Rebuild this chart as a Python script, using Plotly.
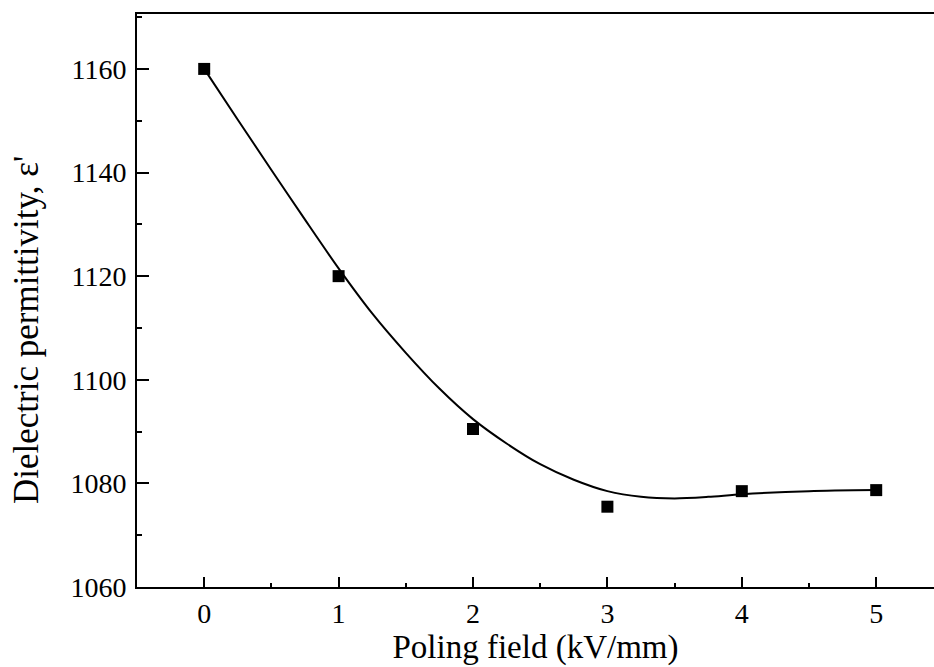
import plotly.graph_objects as go

# Measured data points
field_kv_mm = [0, 1, 2, 3, 4, 5]
permittivity = [1160, 1120, 1090.5, 1075.5, 1078.5, 1078.7]

# Fitted curve
curve_x = [0, 0.25, 0.5, 0.75, 1.0, 1.25, 1.5, 1.75, 2.0, 2.25, 2.5, 2.75,
           3.0, 3.25, 3.5, 3.75, 4.0, 4.5, 5.0]
curve_y = [1160, 1150.2, 1140.5, 1130.9, 1121.5, 1112.8, 1105.2, 1098.3, 1092.4,
           1087.7, 1083.7, 1080.7, 1078.5, 1077.4, 1077.1, 1077.4, 1077.9, 1078.5, 1078.7]

x_ticks = [0, 1, 2, 3, 4, 5]
y_ticks = [1060, 1080, 1100, 1120, 1140, 1160]

font_family = "Liberation Serif, Times New Roman, serif"

fig = go.Figure()
fig.add_trace(go.Scatter(
    x=curve_x, y=curve_y, mode="lines",
    line=dict(color="black", width=2, shape="spline", smoothing=0.8),
    showlegend=False, hoverinfo="skip"))
fig.add_trace(go.Scatter(
    x=field_kv_mm, y=permittivity, mode="markers",
    marker=dict(symbol="square", size=12, color="black"),
    showlegend=False))

fig.update_layout(
    width=934, height=667,
    margin=dict(l=137, r=0, t=14, b=80),
    paper_bgcolor="white", plot_bgcolor="white",
    font=dict(family=font_family, size=28, color="black"),
    xaxis=dict(
        range=[-0.5, 5.43], tickvals=x_ticks, ticks="inside", ticklen=10,
        tickwidth=1.5, tickcolor="black",
        minor=dict(dtick=0.5, ticks="inside", ticklen=4, tickwidth=1.5, tickcolor="black"),
        showline=True, linecolor="black", linewidth=2, mirror=True,
        showgrid=False, zeroline=False, ticklabelstandoff=0,
        title=dict(text="Poling field (kV/mm)", standoff=2,
                   font=dict(family=font_family, size=33)),
        tickfont=dict(family=font_family, size=28)),
    yaxis=dict(
        range=[1060, 1170.6], tickvals=y_ticks, ticks="inside", ticklen=12,
        tickwidth=1.5, tickcolor="black",
        minor=dict(dtick=10, ticks="inside", ticklen=5, tickwidth=1.5, tickcolor="black"),
        showline=True, linecolor="black", linewidth=2, mirror=False,
        showgrid=False, zeroline=False, ticklabelstandoff=3,
        tickfont=dict(family=font_family, size=28)),
    annotations=[dict(
        text="Dielectric permittivity, ε'", textangle=-90,
        xref="paper", yref="paper", x=(26 - 137) / 797, y=(587 - 330) / 573,
        xanchor="center", yanchor="middle", showarrow=False,
        font=dict(family=font_family, size=35, color="black"))],
)

fig.write_html("out.html")
